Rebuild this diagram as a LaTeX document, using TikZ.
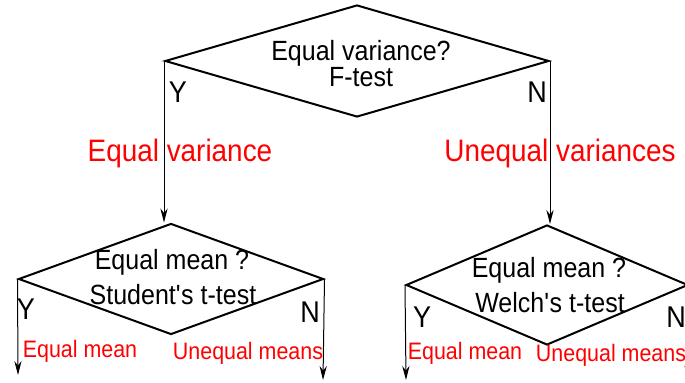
\documentclass[tikz,border=0pt]{standalone}
\usepackage{fontspec}
\setmainfont{Liberation Sans}[FakeStretch=0.9]
\usetikzlibrary{arrows.meta,shapes.geometric}

\begin{document}
\begin{tikzpicture}[x=0.5pt,y=-0.5pt,
  dia/.style={draw,diamond,line width=1pt,inner sep=0pt},
  qtext/.style={anchor=base,inner sep=0pt,font=\fontsize{13.9}{16}\selectfont},
  yn/.style={anchor=base,inner sep=0pt,font=\fontsize{15}{17}\selectfont},
  branch/.style={anchor=base,inner sep=0pt,text=red,font=\fontsize{15.5}{18}\selectfont},
  outcome/.style={anchor=base,inner sep=0pt,text=red,font=\fontsize{11.9}{14}\selectfont},
  arr/.style={-{Stealth[length=7pt,width=3.6pt]},line width=0.5pt}]
\clip (0,0) rectangle (685,383);
% decisions
\node[dia,minimum width=192pt,minimum height=56pt] (q1) at (357,61) {};
\node[dia,minimum width=152.5pt,minimum height=55.5pt] (q2) at (171,279) {};
\node[dia,minimum width=141pt,minimum height=60pt] (q3) at (547,285) {};
\node[qtext] (q1a) at (361,61) {Equal variance?};
\node[qtext] (q1b) at (361,87) {F-test};
\node[qtext] (q2a) at (172,270) {Equal mean ?};
\node[qtext] (q2b) at (173,305) {Student\textquotesingle s t-test};
\node[qtext] (q3a) at (549,278) {Equal mean ?};
\node[qtext] (q3b) at (550,313) {Welch\textquotesingle s t-test};
% yes / no
\node[yn] (y1) at (178,103) {Y};
\node[yn] (n1) at (537,103) {N};
\node[yn] (y2) at (26,320) {Y};
\node[yn] (n2) at (310,323) {N};
\node[yn] (y3) at (422,328) {Y};
\node[yn] (n3) at (676,328) {N};
% outcomes
\node[branch] (ev) at (180,162) {Equal variance};
\node[branch] (uv) at (560,162) {Unequal variances};
\node[outcome] (em2) at (80,358) {Equal mean};
\node[outcome] (um2) at (248,360) {Unequal means};
\node[outcome] (em3) at (465,360) {Equal mean};
\node[outcome] (um3) at (611,362) {Unequal means};
% arrows
\coordinate (e2w) at (18,375);
\coordinate (e2e) at (323,380);
\coordinate (e3w) at (406,380);
\coordinate (e3e) at (688,380);
\draw[arr] (q1.west) -- (q1.west |- q2.north);
\draw[arr] (q1.east) -- (q1.east |- q3.north);
\draw[arr] (q2.west) -- (e2w);
\draw[arr] (q2.east) -- (e2e);
\draw[arr] (q3.west) -- (e3w);
\draw[arr] (q3.east) -- (e3e);
\end{tikzpicture}
\end{document}
